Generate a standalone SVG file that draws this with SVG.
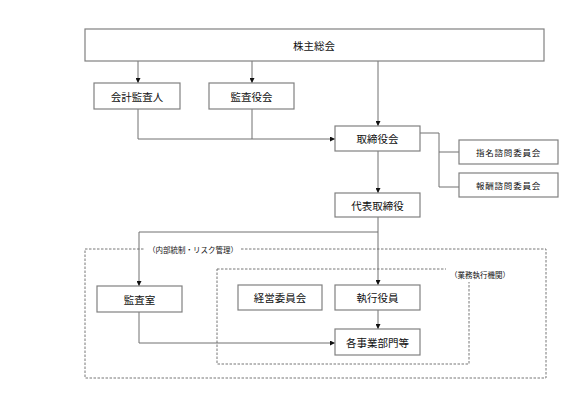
<svg xmlns="http://www.w3.org/2000/svg" width="587" height="398" viewBox="0 0 587 398">
<style>
.box{fill:#fff;stroke:#808080;stroke-width:1.2}
.t{font-family:"Noto Sans CJK JP","Noto Sans",sans-serif;font-size:10.5px;fill:#111;text-anchor:middle;dominant-baseline:central}
.s{font-size:8.5px;letter-spacing:0.8px}
.l{font-size:7.5px}
.c{fill:none;stroke:#707070;stroke-width:1}
.d{fill:none;stroke:#777;stroke-width:1;stroke-dasharray:2.5,1.5}
</style>
<defs>
<marker id="a" viewBox="0 0 6 6" refX="6" refY="3" markerWidth="5" markerHeight="5" orient="auto" markerUnits="userSpaceOnUse">
<path d="M0,0L6,3L0,6z" fill="#111"/>
</marker>
</defs>
<rect width="587" height="398" fill="#fff"/>
<g id="frames">
<rect class="d" x="85" y="249" width="461" height="129"/>
<rect class="d" x="217" y="269" width="252" height="95"/>
<rect x="145" y="242" width="95" height="14" fill="#fff"/>
<text class="t l" x="193" y="249">（内部統制・リスク管理）</text>
<rect x="446" y="267" width="68" height="15" fill="#fff"/>
<text class="t l" x="480" y="274.5">（業務執行機関）</text>
</g>
<g id="connectors">
<path class="c" d="M138,61V83" marker-end="url(#a)"/>
<path class="c" d="M252,61V83" marker-end="url(#a)"/>
<path class="c" d="M378,61V126" marker-end="url(#a)"/>
<path class="c" d="M138,109V139H335" marker-end="url(#a)"/>
<path class="c" d="M252,109V139"/>
<path class="c" d="M420,133H439V187H459"/>
<path class="c" d="M439,152H459"/>
<path class="c" d="M378,151V193" marker-end="url(#a)"/>
<path class="c" d="M378,217V285" marker-end="url(#a)"/>
<path class="c" d="M378,232H139V286" marker-end="url(#a)"/>
<path class="c" d="M378,310V329" marker-end="url(#a)"/>
<path class="c" d="M139,312V343H335" marker-end="url(#a)"/>
</g>
<g id="n1"><rect class="box" x="85" y="29" width="459" height="32"/><text class="t" x="314" y="45">株主総会</text></g>
<g id="n2"><rect class="box" x="94" y="83" width="86" height="26"/><text class="t" x="137" y="96">会計監査人</text></g>
<g id="n3"><rect class="box" x="209" y="83" width="85" height="26"/><text class="t" x="251.5" y="96">監査役会</text></g>
<g id="n4"><rect class="box" x="335" y="126" width="85" height="25"/><text class="t" x="377.5" y="138.5">取締役会</text></g>
<g id="n5"><rect class="box" x="459" y="140" width="99" height="24"/><text class="t s" x="508.5" y="152">指名諮問委員会</text></g>
<g id="n6"><rect class="box" x="459" y="173" width="99" height="24"/><text class="t s" x="508.5" y="185">報酬諮問委員会</text></g>
<g id="n7"><rect class="box" x="335" y="193" width="85" height="24"/><text class="t" x="377.5" y="205">代表取締役</text></g>
<g id="n8"><rect class="box" x="97" y="286" width="85" height="26"/><text class="t" x="139.5" y="299">監査室</text></g>
<g id="n9"><rect class="box" x="238" y="285" width="84" height="25"/><text class="t" x="280" y="297.5">経営委員会</text></g>
<g id="n10"><rect class="box" x="335" y="285" width="85" height="25"/><text class="t" x="377.5" y="297.5">執行役員</text></g>
<g id="n11"><rect class="box" x="335" y="329" width="85" height="26"/><text class="t" x="377.5" y="342">各事業部門等</text></g>
</svg>
